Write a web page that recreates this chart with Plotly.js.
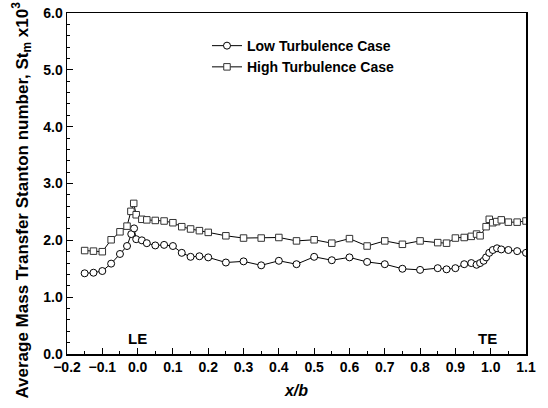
<!DOCTYPE html>
<html>
<head>
<meta charset="utf-8">
<script src="https://cdn.plot.ly/plotly-3.0.1.min.js"></script>
<style>html,body{margin:0;padding:0;background:#fff;}#chart{width:548px;height:408px;}</style>
</head>
<body>
<div id="chart"></div>
<script>
var lowX = [-0.15,-0.125,-0.1,-0.075,-0.05,-0.03,-0.018,-0.01,-0.004,0.012,0.026,0.05,0.075,0.1,0.125,0.15,0.175,0.2,0.25,0.3,0.35,0.4,0.45,0.5,0.55,0.6,0.65,0.7,0.75,0.8,0.85,0.875,0.9,0.925,0.945,0.96,0.97,0.98,0.987,0.996,1.006,1.018,1.03,1.05,1.075,1.1];
var lowY = [1.42,1.43,1.46,1.59,1.76,1.90,2.11,2.21,2.02,2.00,1.95,1.91,1.92,1.90,1.78,1.71,1.72,1.70,1.61,1.63,1.56,1.64,1.58,1.71,1.65,1.70,1.62,1.58,1.50,1.48,1.51,1.49,1.51,1.58,1.60,1.57,1.60,1.64,1.70,1.78,1.83,1.86,1.84,1.83,1.81,1.78];
var highX = [-0.15,-0.125,-0.1,-0.075,-0.05,-0.03,-0.019,-0.011,-0.004,0.012,0.026,0.05,0.075,0.1,0.125,0.15,0.175,0.2,0.25,0.3,0.35,0.4,0.45,0.5,0.55,0.6,0.65,0.7,0.75,0.8,0.85,0.875,0.9,0.925,0.945,0.96,0.97,0.987,0.996,1.006,1.017,1.03,1.05,1.075,1.1];
var highY = [1.82,1.81,1.80,2.01,2.15,2.25,2.51,2.65,2.45,2.37,2.36,2.35,2.34,2.31,2.24,2.20,2.17,2.14,2.08,2.04,2.04,2.05,1.99,2.01,1.95,2.03,1.90,1.99,1.93,1.99,1.96,1.95,2.04,2.05,2.07,2.11,2.08,2.24,2.37,2.31,2.33,2.36,2.32,2.32,2.34];
var seriesNames = ["Low Turbulence Case","High Turbulence Case"];
var xTitle = "<i>x/b</i>";
var yTitle = "Average Mass Transfer Stanton number, St<sub>m</sub> x10<sup>3</sup>";

var F = "Liberation Sans, Arial, sans-serif";
var traces = [
  {x: lowX, y: lowY, name: seriesNames[0], mode: "lines+markers", type: "scatter",
   line: {color: "#000", width: 1},
   marker: {symbol: "circle", size: 7, color: "#fff", line: {color: "#000", width: 1}}},
  {x: highX, y: highY, name: seriesNames[1], mode: "lines+markers", type: "scatter",
   line: {color: "#000", width: 1},
   marker: {symbol: "square", size: 6.5, color: "#fff", line: {color: "#333", width: 1}}}
];
var axisCommon = {
  showgrid: false, zeroline: false, showline: true, linecolor: "#000", linewidth: 1.5,
  mirror: true, ticks: "inside", ticklen: 6, tickwidth: 1, tickcolor: "#000",
  tickfont: {family: F, size: 14, color: "#000", weight: "bold"}
};
var layout = {
  width: 548, height: 408,
  margin: {l: 67, r: 22, t: 13, b: 54},
  paper_bgcolor: "#fff", plot_bgcolor: "#fff",
  showlegend: true,
  legend: {x: 0.305, y: 0.95, xanchor: "left", yanchor: "top", bgcolor: "rgba(0,0,0,0)",
           font: {family: F, size: 14, color: "#000", weight: "bold"}, tracegroupgap: 0},
  xaxis: Object.assign({}, axisCommon, {
    range: [-0.2, 1.1], dtick: 0.1, tick0: 0, tickformat: ".1f",
    minor: {dtick: 0.05, ticks: "inside", ticklen: 3, tickcolor: "#000"},
    title: {text: xTitle, font: {family: F, size: 16, color: "#000", weight: "bold"}, standoff: 10}
  }),
  yaxis: Object.assign({}, axisCommon, {
    range: [0, 6], dtick: 1, tick0: 0, tickformat: ".1f",
    minor: {dtick: 0.2, ticks: "inside", ticklen: 3, tickcolor: "#000"}
  }),
  annotations: [
    {x: 0.0, y: 0.28, xref: "x", yref: "y", text: "<b>LE</b>", showarrow: false,
     font: {family: F, size: 15, color: "#000"}},
    {x: 0.99, y: 0.28, xref: "x", yref: "y", text: "<b>TE</b>", showarrow: false,
     font: {family: F, size: 15, color: "#000"}},
    {x: -0.098, y: 0.45, xref: "paper", yref: "paper", xanchor: "center", yanchor: "middle",
     text: "<b>" + yTitle + "</b>", textangle: -90, showarrow: false,
     font: {family: F, size: 17, color: "#000"}}
  ]
};
Plotly.newPlot("chart", traces, layout, {displayModeBar: false, staticPlot: true});
</script>
</body>
</html>
